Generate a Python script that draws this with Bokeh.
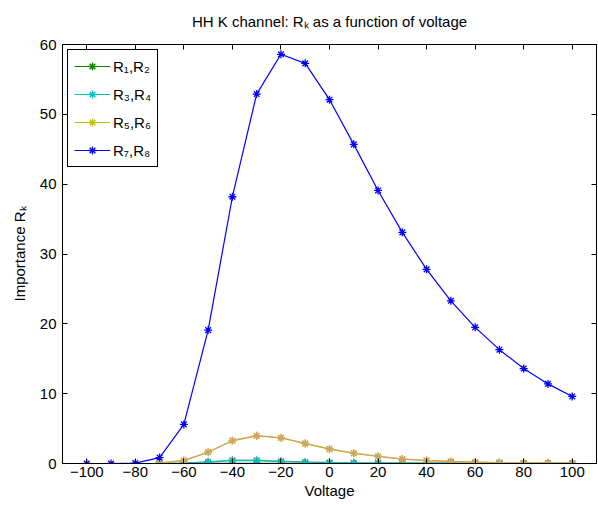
from bokeh.plotting import figure
from bokeh.models import (Range1d, LinearAxis, FixedTicker, Legend, LegendItem, Title)
from bokeh.embed import file_html
from bokeh.resources import INLINE

# ---- data ----
v_full = [-100, -90, -80, -70, -60, -50, -40, -30, -20, -10, 0, 10, 20, 30, 40, 50, 60, 70, 80, 90, 100]
v_part = [-70, -60, -50, -40, -30, -20, -10, 0, 10, 20, 30, 40, 50, 60, 70, 80, 90, 100]

r78 = [0.0, 0.0, 0.05, 0.85, 5.6, 19.1, 38.2, 52.9, 58.6, 57.3, 52.1, 45.7, 39.1, 33.1, 27.8, 23.3, 19.5, 16.3, 13.6, 11.4, 9.6]
r56_a = [0.05, 0.4, 1.6, 3.25, 3.95, 3.65, 2.85, 2.05, 1.45, 1.0, 0.62, 0.42, 0.28, 0.19, 0.13, 0.09, 0.06, 0.05]
r56_b = [0.08, 0.45, 1.65, 3.3, 4.0, 3.7, 2.9, 2.1, 1.5, 1.05, 0.66, 0.45, 0.3, 0.2, 0.14, 0.1, 0.07, 0.06]
r34_a = [0.0, 0.05, 0.2, 0.4, 0.4, 0.28, 0.18, 0.12, 0.08, 0.06, 0.05, 0.04, 0.03, 0.03, 0.02, 0.02, 0.02, 0.02]
r34_b = [0.0, 0.06, 0.25, 0.5, 0.48, 0.34, 0.22, 0.15, 0.1, 0.07, 0.06, 0.05, 0.04, 0.03, 0.03, 0.02, 0.02, 0.02]
r12 = [0.0, 0.0, 0.01, 0.02, 0.02, 0.02, 0.02, 0.01, 0.01, 0.01, 0.01, 0.01, 0.01, 0.01, 0.01, 0.01, 0.01, 0.01]

x_ticks = [-100, -80, -60, -40, -20, 0, 20, 40, 60, 80, 100]
x_tick_labels = ["\u2212100", "\u221280", "\u221260", "\u221240", "\u221220", "0", "20", "40", "60", "80", "100"]
y_ticks = [0, 10, 20, 30, 40, 50, 60]

legend_labels = ["R\u2081,R\u2082", "R\u2083,R\u2084", "R\u2085,R\u2086", "R\u2087,R\u2088"]
title_text = "HH K channel: R\u2096 as a function of voltage"

FONT = "Liberation Sans"

p = figure(width=598, height=505, output_backend="svg", toolbar_location=None,
           x_range=Range1d(-110, 110), y_range=Range1d(0, 60),
           min_border_left=62, min_border_right=2, min_border_top=43, min_border_bottom=42)
p.title = Title(text=title_text, align="center", vertical_align="top", text_font=FONT,
                text_font_size="15px", text_font_style="normal", text_color="black",
                standoff=25, offset=0)
p.grid.visible = False
p.outline_line_color = "black"
p.outline_line_width = 1
p.outline_line_alpha = 1.0
p.background_fill_color = "white"
p.border_fill_color = "white"

def style_axis(ax, show_labels=True):
    ax.major_tick_in = 5
    ax.major_tick_out = 0
    ax.minor_tick_in = 0
    ax.minor_tick_out = 0
    ax.axis_line_color = "black"
    ax.major_tick_line_color = "black"
    ax.major_label_text_font = FONT
    ax.major_label_text_font_size = "15px"
    ax.major_label_text_color = "black"
    ax.axis_label_text_color = "black"
    if not show_labels:
        ax.major_label_text_color = None
        ax.major_label_text_font_size = "1px"
        ax.major_label_standoff = 0

p.xaxis.ticker = FixedTicker(ticks=x_ticks)
p.xaxis.major_label_overrides = {t: l for t, l in zip(x_ticks, x_tick_labels)}
p.yaxis.ticker = FixedTicker(ticks=y_ticks)
style_axis(p.xaxis[0])
style_axis(p.yaxis[0])
p.xaxis.major_label_standoff = 3
p.yaxis.major_label_standoff = 6
p.xaxis.axis_label = "Voltage"
p.yaxis.axis_label = "Importance R\u2096"
for ax in (p.xaxis[0], p.yaxis[0]):
    ax.axis_label_text_font = FONT
    ax.axis_label_text_font_size = "15px"
    ax.axis_label_text_font_style = "normal"
p.xaxis.axis_label_standoff = 2
p.yaxis.axis_label_standoff = 9

top_ax = LinearAxis(ticker=FixedTicker(ticks=x_ticks))
right_ax = LinearAxis(ticker=FixedTicker(ticks=y_ticks))
style_axis(top_ax, False)
style_axis(right_ax, False)
p.add_layout(top_ax, "above")
p.add_layout(right_ax, "right")

# ---- series ----
def series(x, y, color, alpha=1.0):
    ln = p.line(x, y, line_color=color, line_width=1.2, line_alpha=alpha)
    sc = p.scatter(x, y, marker="asterisk", size=8, line_color=color, line_width=1.3, line_alpha=alpha)
    return [ln, sc]

g12 = series(v_part, r12, "#008000")
series(v_part, r34_b, "#808080", 0.8)
g34 = series(v_part, r34_a, "#00bfbf")
g56 = series(v_part, r56_a, "#bfbf00")
series(v_part, r56_b, "#d2a070", 0.85)
g78 = series(v_full, r78, "#0000ff")

items = [LegendItem(label=legend_labels[i], renderers=g) for i, g in enumerate([g12, g34, g56, g78])]
legend = Legend(items=items, location="top_left", border_line_color="black", border_line_width=1,
                border_line_alpha=1.0,
                background_fill_alpha=1.0, label_text_font=FONT, label_text_font_size="15px",
                label_text_color="black",
                glyph_width=36, glyph_height=20, spacing=8, padding=6, margin=5,
                label_standoff=3, label_height=20)
p.add_layout(legend)

open("out.html", "w").write(file_html(p, INLINE))
